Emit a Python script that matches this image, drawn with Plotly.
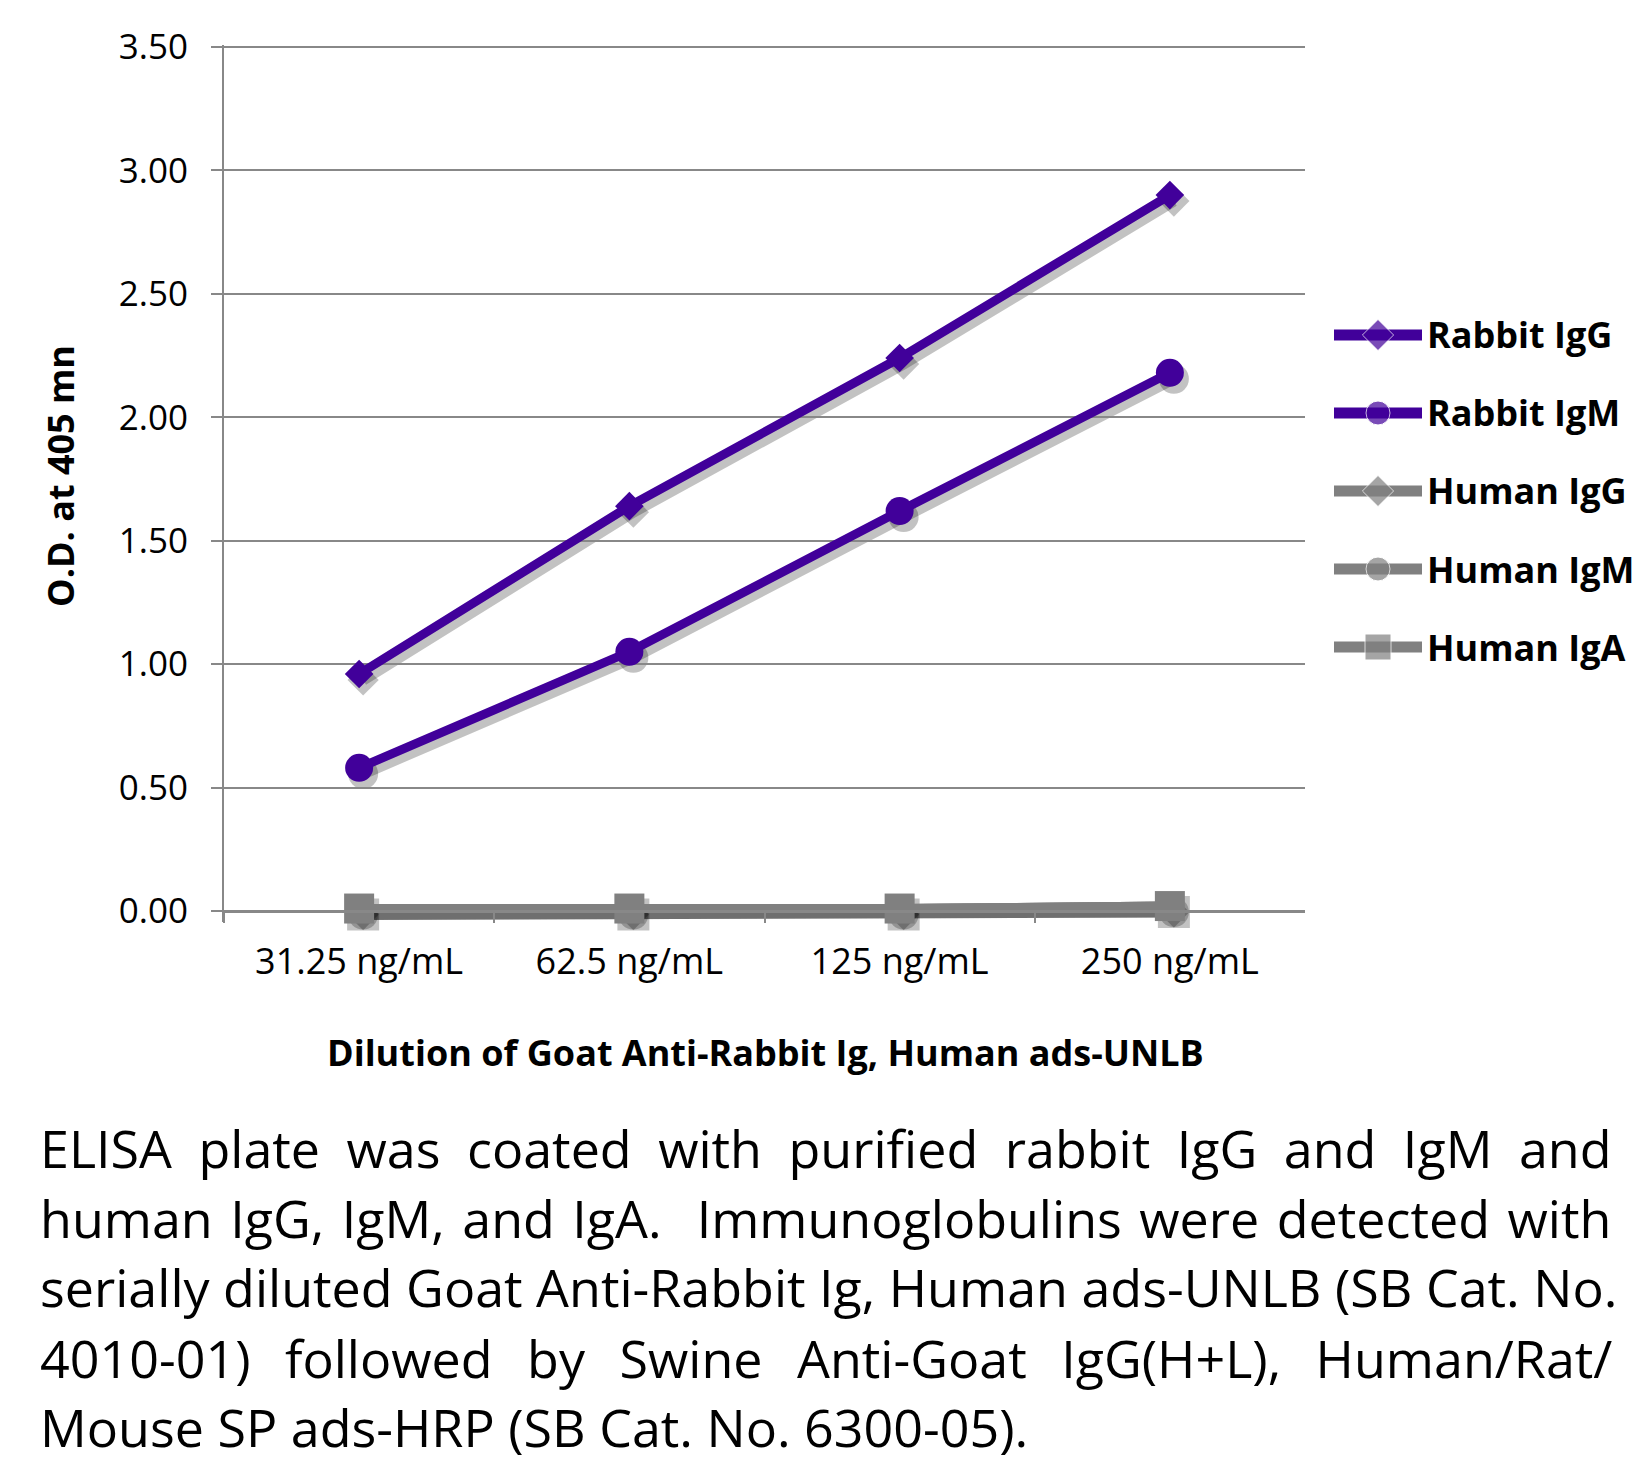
import plotly.graph_objects as go

# chart data
dilutions = ["31.25 ng/mL", "62.5 ng/mL", "125 ng/mL", "250 ng/mL"]
series_names = ["Rabbit IgG", "Rabbit IgM", "Human IgG", "Human IgM", "Human IgA"]
rabbit_igg = [0.96, 1.64, 2.24, 2.90]
rabbit_igm = [0.58, 1.05, 1.62, 2.18]
human_igg = [0.01, 0.01, 0.01, 0.02]
human_igm = [0.01, 0.01, 0.01, 0.02]
human_iga = [0.01, 0.01, 0.01, 0.02]
y_ticks = [0.0, 0.5, 1.0, 1.5, 2.0, 2.5, 3.0, 3.5]

caption_lines = [
    "ELISA plate was coated with purified rabbit IgG and IgM and",
    "human IgG, IgM, and IgA.\u00a0 Immunoglobulins were detected with",
    "serially diluted Goat Anti-Rabbit Ig, Human ads-UNLB (SB Cat. No.",
    "4010-01) followed by Swine Anti-Goat IgG(H+L), Human/Rat/",
    "Mouse SP ads-HRP (SB Cat. No. 6300-05).",
]
# extra space between words so the block looks justified
caption_spacing = [13, 4, 0, 21, 0]

PURPLE = "#41009A"
GREY = "#808080"
GRID = "#888888"
SHADOW = "rgba(0,0,0,0.24)"
FONT = "Open Sans"
W, H = 1650, 1460
PAGE = 8  # body margin of the html page


def px(x):
    return (x - PAGE) / W


def py(y):
    return 1 - (y - PAGE) / H


styles = [
    dict(color=PURPLE, symbol="diamond", size=22),
    dict(color=PURPLE, symbol="circle", size=28),
    dict(color=GREY, symbol="diamond", size=22),
    dict(color=GREY, symbol="circle", size=28),
    dict(color=GREY, symbol="square", size=30),
]
values = [rabbit_igg, rabbit_igm, human_igg, human_igm, human_iga]

fig = go.Figure()

# soft drop shadow: same data on the main axes, real series on a copy
# of those axes shifted a few pixels up-left and drawn on top
for name, vals, st in zip(series_names, values, styles):
    fig.add_trace(go.Scatter(
        x=dilutions, y=vals, mode="lines+markers",
        line=dict(color=SHADOW, width=11),
        marker=dict(color=SHADOW, symbol=st["symbol"], size=st["size"] + 2),
        cliponaxis=False, showlegend=False, hoverinfo="skip",
    ))
for name, vals, st in zip(series_names, values, styles):
    fig.add_trace(go.Scatter(
        x=dilutions, y=vals, name=name, mode="lines+markers",
        line=dict(color=st["color"], width=9),
        marker=dict(color=st["color"], symbol=st["symbol"], size=st["size"]),
        xaxis="x3", yaxis="y3", cliponaxis=False, showlegend=False,
    ))

# hand-drawn legend on a helper axis
legend_sizes = [24, 24, 24, 24, 26]
for i, (name, st) in enumerate(zip(series_names, styles)):
    fig.add_trace(go.Scatter(
        x=[0, 0.5, 1], y=[i, i, i], mode="lines+markers",
        line=dict(color=st["color"], width=11),
        marker=dict(color=st["color"], symbol=st["symbol"],
                    size=[0, legend_sizes[i], 0]),
        xaxis="x2", yaxis="y2", cliponaxis=False, showlegend=False,
        hoverinfo="skip",
    ))
    fig.add_annotation(
        text=f"<b>{name}</b>", xref="paper", yref="y2", x=px(1425), y=i,
        xanchor="left", yanchor="middle", showarrow=False,
        font=dict(family=FONT, size=36, color="black"),
    )

# one unit on the y axis is 864 / 3.5 px
unit = 864 / 3.5
y_lo, y_hi = -0.045, 3.51
dx, dy = 4, 6  # shadow offset in px

fig.update_layout(
    width=W, height=H,
    margin=dict(l=0, r=0, t=0, b=0),
    paper_bgcolor="white", plot_bgcolor="rgba(0,0,0,0)",
    template="none",
    font=dict(family=FONT, color="black"),
    xaxis=dict(
        domain=[px(224 + dx), px(1305 + dx)], type="category", range=[-0.5, 3.5],
        anchor="free", position=py(911),
        showgrid=False, showline=False, ticks="", showticklabels=False,
        automargin=False, zeroline=False,
    ),
    yaxis=dict(
        domain=[py(911 + dy - y_lo * unit), py(911 + dy - y_hi * unit)],
        range=[y_lo, y_hi], showgrid=False, showline=False, ticks="",
        showticklabels=False, automargin=False, zeroline=False,
    ),
    xaxis3=dict(
        domain=[px(224), px(1305)], type="category", range=[-0.5, 3.5],
        anchor="free", position=py(911),
        showgrid=False, showline=True, linecolor=GRID, linewidth=3,
        ticks="outside", tickson="boundaries", ticklen=10, tickwidth=2,
        tickcolor=GRID, tickfont=dict(size=36), ticklabelstandoff=18,
        automargin=False, zeroline=False,
    ),
    yaxis3=dict(
        domain=[py(911 - y_lo * unit), py(911 - y_hi * unit)],
        range=[y_lo, y_hi], anchor="x3",
        tickvals=y_ticks, tickformat=".2f",
        showgrid=True, gridcolor=GRID, gridwidth=2,
        showline=True, linecolor=GRID, linewidth=2,
        ticks="outside", ticklen=11, tickwidth=2, tickcolor=GRID,
        tickfont=dict(size=35), ticklabelstandoff=16,
        automargin=False, zeroline=False, layer="below traces",
    ),
    xaxis2=dict(domain=[px(1334), px(1422)], range=[0, 1], visible=False,
                anchor="y2"),
    yaxis2=dict(domain=[py(647 + 39), py(335 - 39)], range=[4.5, -0.5],
                visible=False, anchor="x2"),
)

# axis titles
fig.add_annotation(
    text="<b>Dilution of Goat Anti-Rabbit Ig, Human ads-UNLB</b>",
    xref="paper", yref="paper", x=px(765), y=py(1052),
    xanchor="center", yanchor="middle", showarrow=False,
    font=dict(family=FONT, size=36, color="black"),
)
fig.add_annotation(
    text="<b>O.D. at 405 mn</b>", textangle=-90,
    xref="paper", yref="paper", x=px(60), y=py(476),
    xanchor="center", yanchor="middle", showarrow=False,
    font=dict(family=FONT, size=36, color="black"),
)

# caption
caption_y = [1147, 1217, 1286, 1357, 1426]
for line, yy, ws in zip(caption_lines, caption_y, caption_spacing):
    fig.add_annotation(
        text=f'<span style="word-spacing:{ws}px">{line}</span>',
        xref="paper", yref="paper", x=px(38), y=py(yy),
        xanchor="left", yanchor="middle", showarrow=False,
        font=dict(family=FONT, size=52, color="black"),
    )

fig.write_html("out.html")
